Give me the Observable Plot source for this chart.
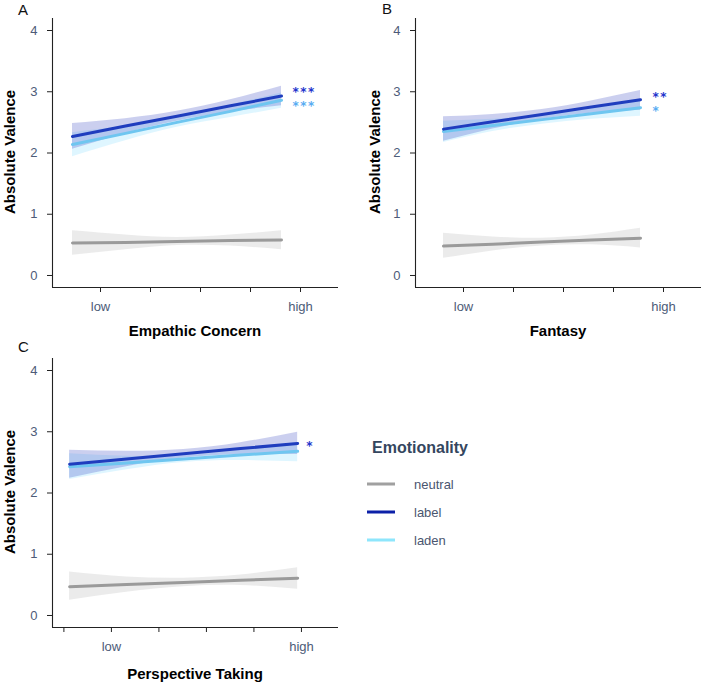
<!DOCTYPE html>
<html><head><meta charset="utf-8">
<script src="https://cdn.jsdelivr.net/npm/d3@7"></script>
<script src="https://cdn.jsdelivr.net/npm/@observablehq/plot@0.6"></script>
<style>
body{margin:0;background:#fff;font-family:"Liberation Sans",Arial,sans-serif;}
#wrap{position:relative;width:704px;height:684px;overflow:hidden;background:#fff;}
.panel{position:absolute;}
.tag{position:absolute;font-size:15px;color:#111;line-height:1;}
.xt{position:absolute;font-size:15px;font-weight:bold;color:#000;transform:translate(-50%,-50%);white-space:nowrap;}
.yt{position:absolute;font-size:15px;font-weight:bold;color:#000;transform:translate(-50%,-50%) rotate(-90deg);white-space:nowrap;}
.lgt{position:absolute;font-size:16px;font-weight:bold;color:#34465e;transform:translateY(-50%);white-space:nowrap;}
.lgk{position:absolute;height:3px;width:28px;transform:translateY(-50%);}
.lgl{position:absolute;font-size:13px;color:#4a5670;transform:translateY(-50%);white-space:nowrap;}
</style></head><body><div id="wrap"></div>
<script>
// ---------- data ----------
const emotionality = ["neutral", "label", "laden"];
const yTicks = [0, 1, 2, 3, 4];
const xTicksAB = [1, 2, 3, 4, 5];
const xTicksC = [0, 1, 2, 3, 4, 5];
const xTickLow = 1, xTickHigh = 5;
const xTickText = ["low", "high"];
const panelTags = ["A", "B", "C"];
const xTitles = ["Empathic Concern", "Fantasy", "Perspective Taking"];
const yTitle = "Absolute Valence";
const legendTitle = "Emotionality";

// Panel A: Empathic Concern
const A_x = [0.44, 1.5, 2.53, 3.6, 4.62];
const A_neutral_mean = [0.53, 0.54, 0.555, 0.57, 0.58];
const A_neutral_lo = [0.33, 0.42, 0.49, 0.48, 0.42];
const A_neutral_hi = [0.73, 0.66, 0.62, 0.66, 0.73];
const A_label_mean = [2.27, 2.44, 2.60, 2.77, 2.93];
const A_label_lo = [2.06, 2.32, 2.52, 2.67, 2.77];
const A_label_hi = [2.48, 2.56, 2.68, 2.87, 3.09];
const A_laden_mean = [2.14, 2.32, 2.50, 2.68, 2.86];
const A_laden_lo = [1.94, 2.20, 2.42, 2.58, 2.73];
const A_laden_hi = [2.33, 2.44, 2.58, 2.78, 2.98];
const A_starText = ["", "***", "***"];
const A_starX = [4.84, 4.84, 4.84];
const A_starY = [0, 2.99, 2.77];

// Panel B: Fantasy
const B_x = [0.6, 1.585, 2.57, 3.555, 4.54];
const B_neutral_mean = [0.48, 0.51, 0.545, 0.58, 0.61];
const B_neutral_lo = [0.28, 0.40, 0.48, 0.50, 0.45];
const B_neutral_hi = [0.69, 0.63, 0.61, 0.66, 0.77];
const B_label_mean = [2.39, 2.51, 2.63, 2.75, 2.87];
const B_label_lo = [2.19, 2.39, 2.55, 2.65, 2.70];
const B_label_hi = [2.59, 2.63, 2.71, 2.85, 3.02];
const B_laden_mean = [2.35, 2.45, 2.545, 2.64, 2.74];
const B_laden_lo = [2.17, 2.35, 2.47, 2.55, 2.60];
const B_laden_hi = [2.52, 2.55, 2.62, 2.73, 2.87];
const B_starText = ["", "**", "*"];
const B_starX = [4.78, 4.78, 4.78];
const B_starY = [0, 2.91, 2.68];

// Panel C: Perspective Taking
const C_x = [0.12, 1.32, 2.52, 3.72, 4.92];
const C_neutral_mean = [0.47, 0.505, 0.54, 0.575, 0.61];
const C_neutral_lo = [0.25, 0.38, 0.47, 0.49, 0.43];
const C_neutral_hi = [0.71, 0.63, 0.61, 0.66, 0.78];
const C_label_mean = [2.47, 2.555, 2.64, 2.725, 2.81];
const C_label_lo = [2.24, 2.43, 2.57, 2.63, 2.63];
const C_label_hi = [2.70, 2.68, 2.71, 2.82, 2.99];
const C_laden_mean = [2.43, 2.49, 2.555, 2.62, 2.68];
const C_laden_lo = [2.22, 2.38, 2.50, 2.53, 2.51];
const C_laden_hi = [2.64, 2.60, 2.61, 2.70, 2.83];
const C_starText = ["", "*", ""];
const C_starX = [5.1, 5.1, 5.1];
const C_starY = [0, 2.77, 0];

// ---------- styles ----------
const lineColors = {neutral: "#9a9a9a", label: "#1f3dbe", laden: "#6fc6f0"};
const bandColors = {neutral: "#999999", label: "#2f3fbf", laden: "#7fdcff"};
const bandOpacity = {neutral: 0.2, label: 0.25, laden: 0.25};
const starColors = {neutral: "#999999", label: "#2233cc", laden: "#58acf2"};
const legendColors = {neutral: "#a0a0a0", label: "#0c20a8", laden: "#8ee6fc"};
const tickTextColor = "#4d5b78";
const axisColor = "#222";
const FONT = "'Liberation Sans', Arial, sans-serif";

function rowsFor(x, series) {
  const rows = [];
  for (const e of ["neutral", "laden", "label"]) {
    const s = series[e];
    x.forEach((xv, i) => rows.push({emo: e, x: xv, mean: s.mean[i], lo: s.lo[i], hi: s.hi[i]}));
  }
  return rows;
}
function starsFor(text, sx, sy) {
  return emotionality.map((e, i) => ({emo: e, text: text[i], x: sx[i], y: sy[i]})).filter(d => d.text);
}

const yDomain = [-0.196, 4.196];

function makePanel({x, series, stars, xTicks, xDomain, width, height, mL, mR, mT, mB}) {
  const rows = rowsFor(x, series);
  const marks = [];
  for (const e of ["neutral", "laden", "label"]) {
    marks.push(Plot.areaY(rows.filter(d => d.emo === e), {
      x: "x", y1: "lo", y2: "hi", fill: bandColors[e], fillOpacity: bandOpacity[e], curve: "natural"
    }));
  }
  for (const e of ["neutral", "laden", "label"]) {
    marks.push(Plot.lineY(rows.filter(d => d.emo === e), {
      x: "x", y: "mean", stroke: lineColors[e], strokeWidth: 3, curve: "linear"
    }));
  }
  marks.push(Plot.ruleX([xDomain[0]], {stroke: axisColor, strokeWidth: 1.1}));
  marks.push(Plot.ruleY([yDomain[0]], {stroke: axisColor, strokeWidth: 1.1}));
  marks.push(Plot.axisY(yTicks, {anchor: "left", tickSize: 5, tickPadding: 10, fontSize: 13,
    stroke: axisColor, color: tickTextColor, label: null, tickFormat: d => String(d)}));
  marks.push(Plot.axisX(xTicks, {anchor: "bottom", tickSize: 5, tickPadding: 9, fontSize: 13,
    stroke: axisColor, color: tickTextColor, label: null,
    tickFormat: d => d === xTickLow ? xTickText[0] : d === xTickHigh ? xTickText[1] : ""}));
  marks.push(Plot.text(stars, {x: "x", y: "y", text: "text", fill: d => starColors[d.emo],
    textAnchor: "start", fontSize: 12, fontWeight: "bold", fontFamily: "'DejaVu Sans', sans-serif"}));
  const svg = Plot.plot({
    width, height, marginLeft: mL, marginRight: mR, marginTop: mT, marginBottom: mB,
    x: {domain: xDomain, axis: null},
    y: {domain: yDomain, axis: null},
    style: {fontFamily: FONT, background: "transparent", overflow: "visible"},
    marks
  });
  svg.querySelectorAll("text").forEach(t => {
    if (/^\*+$/.test(t.textContent)) t.setAttribute("letter-spacing", "1.5");
  });
  return svg;
}

const wrap = document.getElementById("wrap");
function place(el, left, top) {
  el.classList.add("panel");
  el.style.left = left + "px"; el.style.top = top + "px";
  wrap.appendChild(el);
}
function addDiv(cls, text, left, top) {
  const d = document.createElement("div");
  d.className = cls; d.textContent = text;
  d.style.left = left + "px"; d.style.top = top + "px";
  wrap.appendChild(d);
  return d;
}

const pA = makePanel({
  x: A_x,
  series: {
    neutral: {mean: A_neutral_mean, lo: A_neutral_lo, hi: A_neutral_hi},
    label: {mean: A_label_mean, lo: A_label_lo, hi: A_label_hi},
    laden: {mean: A_laden_mean, lo: A_laden_lo, hi: A_laden_hi}
  },
  stars: starsFor(A_starText, A_starX, A_starY),
  xTicks: xTicksAB, xDomain: [0.04, 5.76],
  width: 352, height: 340, mL: 52, mR: 14, mT: 18, mB: 53
});
place(pA, 0, 0);

const pB = makePanel({
  x: B_x,
  series: {
    neutral: {mean: B_neutral_mean, lo: B_neutral_lo, hi: B_neutral_hi},
    label: {mean: B_label_mean, lo: B_label_lo, hi: B_label_hi},
    laden: {mean: B_laden_mean, lo: B_laden_lo, hi: B_laden_hi}
  },
  stars: starsFor(B_starText, B_starX, B_starY),
  xTicks: xTicksAB, xDomain: [0.04, 5.76],
  width: 341, height: 340, mL: 52, mR: 3, mT: 18, mB: 53
});
place(pB, 363, 0);

const pC = makePanel({
  x: C_x,
  series: {
    neutral: {mean: C_neutral_mean, lo: C_neutral_lo, hi: C_neutral_hi},
    label: {mean: C_label_mean, lo: C_label_lo, hi: C_label_hi},
    laden: {mean: C_laden_mean, lo: C_laden_lo, hi: C_laden_hi}
  },
  stars: starsFor(C_starText, C_starX, C_starY),
  xTicks: xTicksC, xDomain: [-0.24, 5.78],
  width: 352, height: 344, mL: 52, mR: 14, mT: 18, mB: 57
});
place(pC, 0, 340);

// panel tags
addDiv("tag", panelTags[0], 18, 2);
addDiv("tag", panelTags[1], 382, 1);
addDiv("tag", panelTags[2], 18, 339);
// axis titles
addDiv("xt", xTitles[0], 195, 330);
addDiv("xt", xTitles[1], 558, 330);
addDiv("xt", xTitles[2], 195, 673);
addDiv("yt", yTitle, 9, 152);
addDiv("yt", yTitle, 374, 152);
addDiv("yt", yTitle, 9, 492);

// legend
addDiv("lgt", legendTitle, 372, 448);
const legendY = [484, 512, 540];
emotionality.forEach((e, i) => {
  const k = addDiv("lgk", "", 367, legendY[i]);
  k.style.background = legendColors[e];
  addDiv("lgl", e, 414, legendY[i]);
});
</script></body></html>
